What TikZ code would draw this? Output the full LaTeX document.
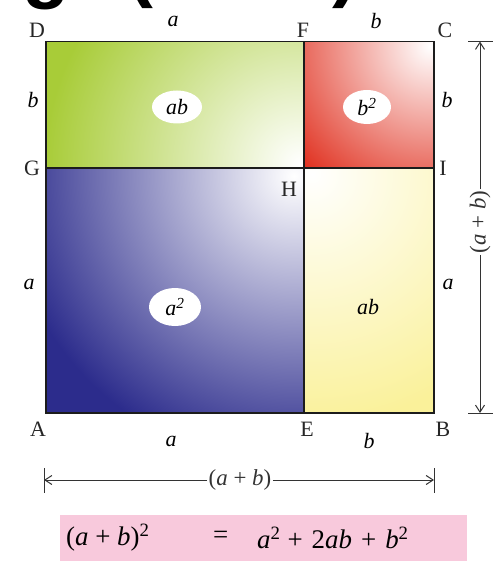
\documentclass[tikz,border=0pt]{standalone}
\usepackage{fontspec}
\setmainfont{Liberation Serif}
\setsansfont{Liberation Sans}
\usetikzlibrary{shapes.geometric,arrows.meta}
\definecolor{greenC}{HTML}{A8CC38}
\definecolor{redC}{HTML}{E0301F}
\definecolor{blueC}{HTML}{2C2C8C}
\definecolor{yellowC}{HTML}{FAF19A}
\definecolor{pinkC}{HTML}{F8C9DC}
\definecolor{lineC}{HTML}{1C1C1C}
\tikzset{
  lbl/.style={font=\fontsize{22}{22}\selectfont, inner sep=0pt, text=black!85},
  area/.style={font=\fontsize{22}{22}\selectfont\itshape, inner sep=0pt},
  blob/.style={ellipse, fill=white, inner sep=0pt, font=\fontsize{22}{22}\selectfont\itshape},
  edge/.style={draw=lineC, line width=1.4bp},
  dim/.style={draw=black!80, line width=1bp},
  dimtip/.style={dim, -{Straight Barb[length=7bp,width=9bp,line width=1bp]}},
  dimlbl/.style={font=\fontsize{23}{23}\selectfont, inner sep=1.5bp, text=black!80},
  title/.style={font=\fontsize{78}{78}\selectfont\sffamily\bfseries, inner sep=0pt, anchor=base west},
  formula/.style={font=\fontsize{27}{27}\selectfont, inner sep=0pt, anchor=west}
}
\begin{document}
\begin{tikzpicture}[x=1bp,y=-1bp]
\useasboundingbox (0,0) rectangle (497,561);
\clip (0,0) rectangle (497,561);
\fill[white] (0,0) rectangle (497,561);
% corners
\coordinate (D) at (46,41.5);
\coordinate (F) at (304,41.5);
\coordinate (C) at (434,41.5);
\coordinate (G) at (46,168);
\coordinate (H) at (304,168);
\coordinate (I) at (434,168);
\coordinate (A) at (46,413);
\coordinate (E) at (304,413);
\coordinate (B) at (434,413);
% cropped title fragment
\node[title] (t1) at (22,-6) {g};
\node[title] (t2) at (127,-7) {(a + b)};
% green
\begin{scope}
\clip (D) rectangle (H);
\fill[greenC] (D) rectangle (H);
\shade[inner color=white, outer color=greenC] (300,164) circle (255);
\end{scope}
% red
\begin{scope}
\clip (F) rectangle (I);
\fill[redC] (F) rectangle (I);
\shade[inner color=white, outer color=redC] (430,46) circle (175);
\end{scope}
% blue
\begin{scope}
\clip (G) rectangle (E);
\fill[blueC] (G) rectangle (E);
\shade[inner color=white, outer color=blueC] (294,176) circle (290);
\end{scope}
% yellow
\begin{scope}
\clip (H) rectangle (B);
\fill[yellowC] (H) rectangle (B);
\shade[inner color=white, outer color=yellowC] (312,174) circle (250);
\end{scope}
% borders
\draw[edge] (D) rectangle (B);
\draw[edge] (G) -- (I);
\draw[edge] (F) -- (E);
% area labels
\node[blob, minimum width=50bp, minimum height=33bp] (ab1) at (177,107) {ab};
\node[blob, minimum width=48bp, minimum height=34bp] (b2) at (367,107) {b\textsuperscript{2}};
\node[blob, minimum width=52bp, minimum height=38bp] (a2) at (175,307) {a\textsuperscript{2}};
\node[area] (ab2) at (368,307) {ab};
% point labels
\node[lbl] (lD) at (37,30) {D};
\node[lbl] (lF) at (303,30) {F};
\node[lbl] (lC) at (445,30) {C};
\node[lbl] (lG) at (32,168) {G};
\node[lbl] (lH) at (289,189) {H};
\node[lbl] (lI) at (443,168) {I};
\node[lbl] (lA) at (38,429) {A};
\node[lbl] (lE) at (307,429) {E};
\node[lbl] (lB) at (443,429) {B};
% side labels
\node[area] (sa1) at (173,21) {a};
\node[area] (sb1) at (376,21) {b};
\node[area] (sb2) at (33,100) {b};
\node[area] (sb3) at (447,100) {b};
\node[area] (sa2) at (29,284) {a};
\node[area] (sa3) at (448,284) {a};
\node[area] (sa4) at (171,441) {a};
\node[area] (sb4) at (369,441) {b};
% horizontal dimension
\coordinate (hl) at (44,480);
\coordinate (hr) at (434,480);
\draw[dim] (44,468) -- (44,493);
\draw[dim] (434,468) -- (434,493);
\node[dimlbl] (hlab) at (240,480) {(\textit{a}~+~\textit{b})};
\draw[dimtip] (hlab.west) -- (hl);
\draw[dimtip] (hlab.east) -- (hr);
% vertical dimension
\coordinate (vt) at (480,41.5);
\coordinate (vb) at (480,413);
\draw[dim] (468,41.5) -- (493,41.5);
\draw[dim] (468,413) -- (493,413);
\node[dimlbl, rotate=90] (vlab) at (480,222) {(\textit{a}~+~\textit{b})};
\draw[dimtip] (vlab.east) -- (vt);
\draw[dimtip] (vlab.west) -- (vb);
% formula
\node[fill=pinkC, minimum width=407bp, minimum height=46bp, inner sep=0pt, anchor=north west] (box) at (60,515) {};
\node[formula] (lhs) at (66,538) {(\textit{a}~+~\textit{b})\textsuperscript{2}};
\node[formula] (eq) at (213,537) {=};
\node[formula] (rhs) at (257,538) {\textit{a}\textsuperscript{2}\hspace{7bp}+\hspace{9bp}2\textit{ab}\hspace{9bp}+\hspace{9bp}\textit{b}\textsuperscript{2}};
\end{tikzpicture}
\end{document}
